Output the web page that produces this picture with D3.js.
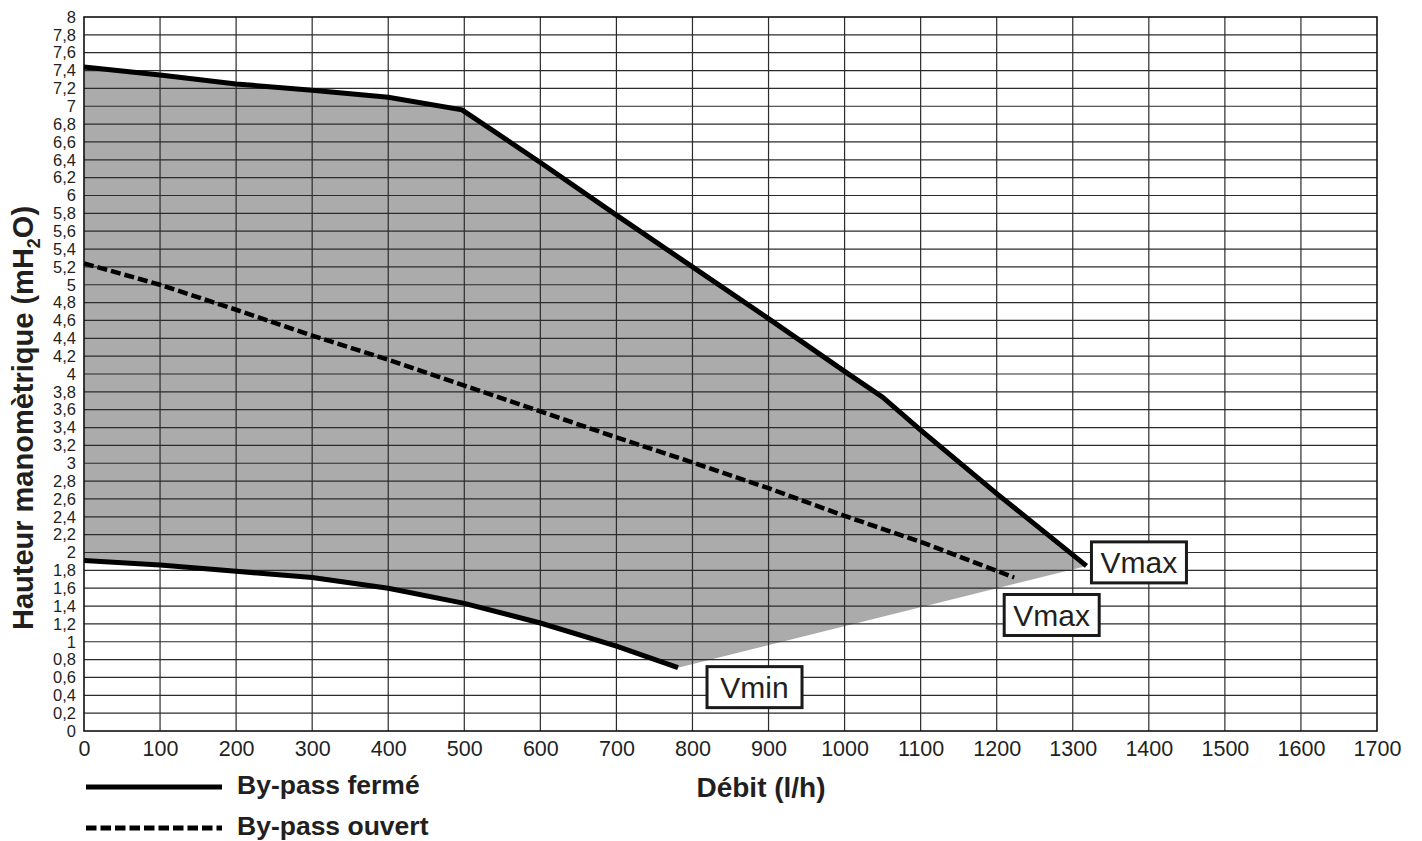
<!DOCTYPE html>
<html>
<head>
<meta charset="utf-8">
<script src="https://cdn.jsdelivr.net/npm/d3@7"></script>
<style>
  body { margin: 0; background: #fff; }
  svg text { font-family: "Liberation Sans", Arial, Helvetica, sans-serif; fill: #231f20; }
</style>
</head>
<body>
<div id="chart"></div>
<script>
// by-pass fermé, upper curve (Vmax)
const fermeMaxQ = [0, 100, 200, 300, 400, 497, 600, 700, 800, 900, 1000, 1050, 1100, 1200, 1318];
const fermeMaxH = [7.44, 7.35, 7.25, 7.18, 7.10, 6.96, 6.37, 5.78, 5.20, 4.62, 4.03, 3.74, 3.37, 2.66, 1.85];
// by-pass fermé, lower curve (Vmin)
const fermeMinQ = [0, 100, 200, 300, 400, 500, 600, 700, 781];
const fermeMinH = [1.91, 1.86, 1.79, 1.72, 1.60, 1.43, 1.21, 0.95, 0.71];
// by-pass ouvert (Vmax)
const ouvertQ = [0, 100, 200, 300, 400, 500, 600, 700, 800, 900, 1000, 1100, 1223];
const ouvertH = [5.24, 5.00, 4.72, 4.43, 4.16, 3.87, 3.58, 3.29, 3.01, 2.72, 2.41, 2.12, 1.72];

const xTicks = d3.range(0, 1701, 100);
const yTicks = d3.range(0, 41).map(i => i / 5);
const legendLabels = ['By-pass fermé', 'By-pass ouvert'];
const curveLabels = ['Vmax', 'Vmax', 'Vmin'];

const width = 1422, height = 841;
const margin = { top: 17, right: 45, bottom: 110, left: 84 };

const zip = (qs, hs) => qs.map((q, i) => ({ q: q, h: hs[i] }));
const fermeMax = zip(fermeMaxQ, fermeMaxH);
const fermeMin = zip(fermeMinQ, fermeMinH);
const ouvert = zip(ouvertQ, ouvertH);

const x = d3.scaleLinear().domain([0, 1700]).range([margin.left, width - margin.right]);
const y = d3.scaleLinear().domain([0, 8]).range([height - margin.bottom, margin.top]);

const svg = d3.select('#chart')
    .append('svg')
    .attr('width', width)
    .attr('height', height);

const line = d3.line().x(d => x(d.q)).y(d => y(d.h));

// grey operating area: upper curve, straight edge to Vmin, lower curve back
const area = fermeMax.concat(fermeMin.slice().reverse());
svg.append('path')
    .attr('d', line(area) + 'Z')
    .attr('fill', '#aaabaa');

// grid
const grid = svg.append('g').attr('stroke', '#2b2b2b').attr('stroke-width', 1.2);
grid.selectAll('.gx')
    .data(xTicks.slice(1, -1))
    .join('line')
    .attr('x1', d => x(d)).attr('x2', d => x(d))
    .attr('y1', y(0)).attr('y2', y(8));
grid.selectAll('.gy')
    .data(yTicks.slice(1, -1))
    .join('line')
    .attr('y1', d => y(d)).attr('y2', d => y(d))
    .attr('x1', x(0)).attr('x2', x(1700));

svg.append('rect')
    .attr('x', x(0)).attr('y', y(8))
    .attr('width', x(1700) - x(0)).attr('height', y(0) - y(8))
    .attr('fill', 'none').attr('stroke', '#111').attr('stroke-width', 1.6);

// axes tick labels
const fmt = d => String(+d.toFixed(1)).replace('.', ',');
const yAxis = d3.axisLeft(y).tickValues(yTicks).tickSize(0).tickPadding(8).tickFormat(fmt);
const yG = svg.append('g').attr('transform', `translate(${x(0)},0)`).call(yAxis);
yG.select('.domain').remove();
yG.selectAll('text').attr('font-size', 16.5).attr('font-family', null);

const xAxis = d3.axisBottom(x).tickValues(xTicks).tickSize(0).tickPadding(10).tickFormat(d3.format('d'));
const xG = svg.append('g').attr('transform', `translate(0,${y(0)})`).call(xAxis);
xG.select('.domain').remove();
xG.selectAll('text').attr('font-size', 21.5).attr('font-family', null);

// curves
svg.append('path').attr('d', line(fermeMax))
    .attr('fill', 'none').attr('stroke', '#000').attr('stroke-width', 5);
svg.append('path').attr('d', line(fermeMin))
    .attr('fill', 'none').attr('stroke', '#000').attr('stroke-width', 5);
svg.append('path').attr('d', line(ouvert))
    .attr('fill', 'none').attr('stroke', '#000').attr('stroke-width', 4.5)
    .attr('stroke-dasharray', '10,4');

// boxed labels at the curve ends
const ends = [fermeMax[fermeMax.length - 1], ouvert[ouvert.length - 1], fermeMin[fermeMin.length - 1]];
const offsets = [[5, -24], [-10, 17], [29, -1]];
const boxW = 95, boxH = 41;
curveLabels.forEach((lab, i) => {
    const bx = x(ends[i].q) + offsets[i][0];
    const by = y(ends[i].h) + offsets[i][1];
    const g = svg.append('g').attr('transform', `translate(${bx},${by})`);
    g.append('rect').attr('width', boxW).attr('height', boxH)
        .attr('fill', '#fff').attr('stroke', '#1a1a1a').attr('stroke-width', 3);
    g.append('text').attr('x', boxW / 2).attr('y', boxH / 2 + 11)
        .attr('text-anchor', 'middle').attr('font-size', 30).text(lab);
});

// axis titles
svg.append('text')
    .attr('x', 761).attr('y', 797)
    .attr('text-anchor', 'middle').attr('font-size', 28).attr('font-weight', 'bold')
    .text('Débit (l/h)');

const yt = svg.append('text')
    .attr('transform', 'translate(33,418) rotate(-90)')
    .attr('text-anchor', 'middle').attr('font-size', 29).attr('font-weight', 'bold');
yt.append('tspan').text('Hauteur manomètrique (mH');
yt.append('tspan').attr('font-size', 18).attr('dy', 7).text('2');
yt.append('tspan').attr('dy', -7).text('O)');

// legend
const legend = svg.append('g');
legendLabels.forEach((lab, i) => {
    const ly = 787 + i * 41;
    legend.append('line')
        .attr('x1', 86).attr('x2', 222).attr('y1', ly).attr('y2', ly)
        .attr('stroke', '#000').attr('stroke-width', 5)
        .attr('stroke-dasharray', i === 0 ? null : '10.5,4');
    legend.append('text')
        .attr('x', 237).attr('y', ly + 7)
        .attr('font-size', 26.5).attr('font-weight', 'bold')
        .text(lab);
});
</script>
</body>
</html>
